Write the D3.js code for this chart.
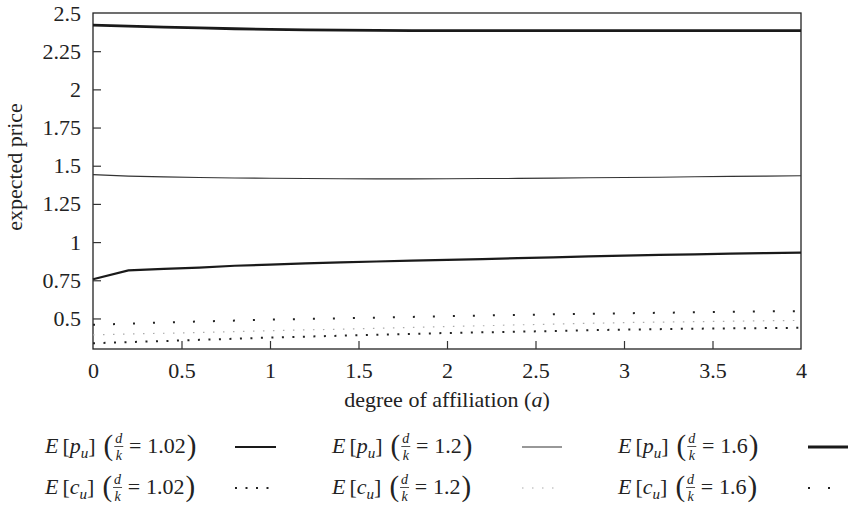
<!DOCTYPE html>
<html>
<head>
<meta charset="utf-8">
<script src="https://cdn.jsdelivr.net/npm/d3@7"></script>
<style>
  html, body { margin: 0; padding: 0; background: #fff; }
  svg { display: block; }
  svg text { font-family: "Liberation Serif", Tinos, "Times New Roman", Times, "DejaVu Serif", serif; fill: #222; }
</style>
</head>
<body>
<svg id="chart" width="857" height="517"></svg>
<script>
// degree of affiliation (a)
const affiliation = [0, 0.2, 0.4, 0.6, 0.8, 1, 1.2, 1.4, 1.6, 1.8, 2, 2.2, 2.4, 2.6, 2.8, 3, 3.2, 3.4, 3.6, 3.8, 4];

// expected price E[p_u] for d/k = 1.02, 1.2, 1.6
const pu102 = [0.757, 0.815, 0.825, 0.833, 0.845, 0.853, 0.860, 0.867, 0.873, 0.878, 0.883, 0.889, 0.895, 0.900, 0.906, 0.911, 0.916, 0.920, 0.924, 0.928, 0.931];
const pu12  = [1.442, 1.432, 1.427, 1.423, 1.420, 1.418, 1.416, 1.415, 1.414, 1.414, 1.415, 1.416, 1.417, 1.419, 1.421, 1.423, 1.425, 1.428, 1.430, 1.432, 1.434];
const pu16  = [2.421, 2.414, 2.408, 2.402, 2.397, 2.393, 2.390, 2.388, 2.386, 2.385, 2.384, 2.384, 2.384, 2.384, 2.384, 2.384, 2.385, 2.385, 2.385, 2.385, 2.385];

// expected price E[c_u] for d/k = 1.02, 1.2, 1.6
const cu102 = [0.338, 0.345, 0.352, 0.360, 0.367, 0.375, 0.381, 0.387, 0.393, 0.399, 0.405, 0.409, 0.413, 0.418, 0.423, 0.427, 0.430, 0.433, 0.435, 0.437, 0.439];
const cu12  = [0.392, 0.398, 0.403, 0.408, 0.414, 0.420, 0.425, 0.430, 0.435, 0.441, 0.447, 0.452, 0.458, 0.463, 0.468, 0.473, 0.476, 0.479, 0.482, 0.485, 0.487];
const cu16  = [0.458, 0.466, 0.474, 0.480, 0.486, 0.492, 0.497, 0.501, 0.505, 0.510, 0.515, 0.519, 0.523, 0.527, 0.531, 0.534, 0.537, 0.540, 0.543, 0.546, 0.548];

const xTicks = [0, 0.5, 1, 1.5, 2, 2.5, 3, 3.5, 4];
const yTicks = [0.5, 0.75, 1, 1.25, 1.5, 1.75, 2, 2.25, 2.5];

// line styles per series
const series = [
  { name: "p", ratio: "1.02", values: pu102, width: 2.2, color: "#1a1a1a", dash: null },
  { name: "p", ratio: "1.2",  values: pu12,  width: 1.1, color: "#333",    dash: null },
  { name: "p", ratio: "1.6",  values: pu16,  width: 2.8, color: "#1a1a1a", dash: null },
  { name: "c", ratio: "1.02", values: cu102, width: 2.0, color: "#222",    dash: "2,8.5" },
  { name: "c", ratio: "1.2",  values: cu12,  width: 1.2, color: "#aaa",    dash: "1.5,8.5" },
  { name: "c", ratio: "1.6",  values: cu16,  width: 2.0, color: "#222",    dash: "2,18" }
];

const svg = d3.select("#chart");
const margin = { left: 93, right: 56, top: 13, bottom: 168 };
const W = 857, H = 517;
const x = d3.scaleLinear().domain([0, 4]).range([margin.left, W - margin.right]);
const y = d3.scaleLinear().domain([0.3, 2.5]).range([H - margin.bottom, margin.top]);

const FS = 22;
const SERIF = '"Liberation Serif", Tinos, "Times New Roman", Times, "DejaVu Serif", serif';

// frame
svg.append("rect")
  .attr("x", x(0)).attr("y", y(2.5))
  .attr("width", x(4) - x(0)).attr("height", y(0.3) - y(2.5))
  .attr("fill", "none").attr("stroke", "#222").attr("stroke-width", 1.3);

// axes with inward ticks
const yAxis = d3.axisLeft(y).tickValues(yTicks).tickSizeInner(-8).tickSizeOuter(0).tickPadding(12)
  .tickFormat(d => d3.format("")(d));
const xAxis = d3.axisBottom(x).tickValues(xTicks).tickSizeInner(-8).tickSizeOuter(0).tickPadding(13)
  .tickFormat(d => d3.format("")(d));

const gy = svg.append("g").attr("transform", `translate(${x(0)},0)`).call(yAxis);
const gx = svg.append("g").attr("transform", `translate(0,${y(0.3)})`).call(xAxis);
[gy, gx].forEach(g => {
  g.attr("font-family", SERIF).attr("font-size", FS);
  g.select(".domain").remove();
  g.selectAll(".tick line").attr("stroke", "#333").attr("stroke-width", 1.2);
  g.selectAll(".tick text").attr("fill", "#222");
});
gx.selectAll(".tick text").attr("dy", "0.71em");
// hide ticks lying on the frame
gy.selectAll(".tick line").filter(d => d === 2.5).remove();
gx.selectAll(".tick line").filter(d => d === 0 || d === 4).remove();

// axis titles
svg.append("text")
  .attr("x", (x(0) + x(4)) / 2).attr("y", 407)
  .attr("text-anchor", "middle").attr("font-size", FS)
  .html('degree of affiliation (<tspan font-style="italic">a</tspan>)');

svg.append("text")
  .attr("transform", `translate(22,167) rotate(-90)`)
  .attr("text-anchor", "middle").attr("font-size", FS)
  .text("expected price");

// series lines
const line = d3.line().x((d, i) => x(affiliation[i])).y(d => y(d));
const plot = svg.append("g");
series.forEach(s => {
  plot.append("path")
    .datum(s.values)
    .attr("d", line)
    .attr("fill", "none")
    .attr("stroke", s.color)
    .attr("stroke-width", s.width)
    .attr("stroke-dasharray", s.dash);
});

// legend: math-style labels E[p_u] (d/k = r), one text element each
const legendCols = [45, 332, 618];
const legendSamples = [[235, 276], [522, 562], [808, 848]];
const legendRows = [453, 494];

function legendLabel(g, x0, base, name, ratio) {
  const t = g.append("text").attr("x", x0).attr("y", base).attr("font-size", FS);
  const span = (str, o = {}) => {
    const s = t.append("tspan").text(str);
    if (o.italic) s.attr("font-style", "italic");
    if (o.size) s.attr("font-size", o.size);
    if (o.dx) s.attr("dx", o.dx);
    if (o.dy) s.attr("dy", o.dy);
    return s;
  };
  span("E", { italic: true });
  span("[", { dx: 4 });
  span(name, { italic: true });
  span("u", { italic: true, size: 15, dy: 5 });
  span("]", { dy: -5 });
  span("(", { dx: 8, size: 29, dy: 2 });
  span("d", { italic: true, size: 14, dx: 2, dy: -12 });
  span("k", { italic: true, size: 14, dx: -6.6, dy: 17 });
  span("=", { dx: 7, dy: -7 });
  span(ratio, { dx: 6 });
  span(")", { dx: 1, size: 29, dy: 2 });
  // fraction bar under the numerator
  const node = t.node();
  const fx0 = node.getStartPositionOfChar(6).x - 1;
  const fx1 = node.getEndPositionOfChar(6).x + 1;
  g.append("line")
    .attr("x1", fx0).attr("x2", fx1)
    .attr("y1", base - 6.5).attr("y2", base - 6.5)
    .attr("stroke", "#222").attr("stroke-width", 0.8);
}

const legend = svg.append("g");
series.forEach((s, i) => {
  const row = i < 3 ? 0 : 1;
  const col = i % 3;
  const base = legendRows[row];
  legendLabel(legend, legendCols[col], base, s.name, s.ratio);
  legend.append("line")
    .attr("x1", legendSamples[col][0]).attr("x2", legendSamples[col][1])
    .attr("y1", base - 6).attr("y2", base - 6)
    .attr("stroke", s.color)
    .attr("stroke-width", s.width)
    .attr("stroke-dasharray", s.dash);
});
</script>
</body>
</html>
